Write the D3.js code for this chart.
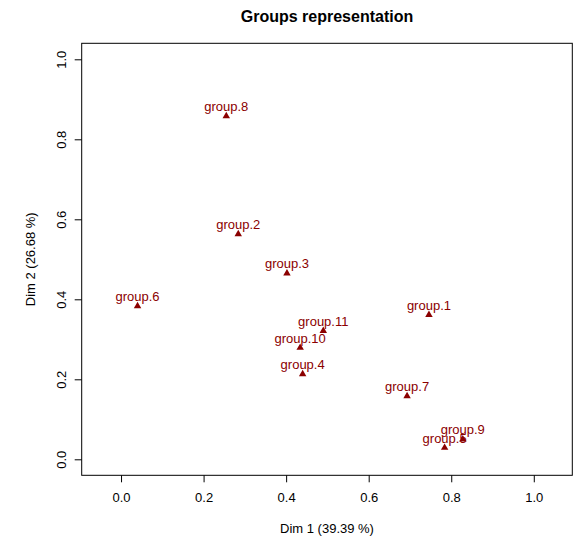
<!DOCTYPE html>
<html>
<head>
<meta charset="utf-8">
<script src="https://cdn.jsdelivr.net/npm/d3@7"></script>
<style>
  html, body { margin: 0; padding: 0; background: #fff; }
  svg { display: block; font-family: "Liberation Sans", Arial, Helvetica, sans-serif; }
</style>
</head>
<body>
<svg id="chart" width="574" height="540"></svg>
<script>
const groups = ["group.1","group.2","group.3","group.4","group.5","group.6","group.7","group.8","group.9","group.10","group.11"];
const dim1 = [0.746, 0.284, 0.402, 0.440, 0.784, 0.040, 0.693, 0.255, 0.828, 0.434, 0.490];
const dim2 = [0.361, 0.563, 0.465, 0.213, 0.029, 0.383, 0.158, 0.858, 0.050, 0.279, 0.321];
const xTicks = [0, 0.2, 0.4, 0.6, 0.8, 1.0];
const yTicks = [0, 0.2, 0.4, 0.6, 0.8, 1.0];
const titleText = "Groups representation";
const xLabel = "Dim 1 (39.39 %)";
const yLabel = "Dim 2 (26.68 %)";

const W = 574, H = 540;
const margin = {left: 81.7, top: 43.3, right: 1.7, bottom: 64.7};
const svg = d3.select("#chart");
const col = "#8B0000";

const x = d3.scaleLinear().domain([-0.0953, 1.0933]).range([margin.left, W - margin.right]);
const y = d3.scaleLinear().domain([-0.04, 1.04]).range([H - margin.bottom, margin.top]);

// box
svg.append("rect")
  .attr("x", x.range()[0]).attr("y", y.range()[1])
  .attr("width", x.range()[1] - x.range()[0])
  .attr("height", y.range()[0] - y.range()[1])
  .attr("fill", "none").attr("stroke", "#000").attr("stroke-width", 1);

// x axis
const xAxis = svg.append("g")
  .attr("transform", `translate(0,${y.range()[0]})`)
  .call(d3.axisBottom(x).tickValues(xTicks).tickFormat(d3.format(".1f")).tickSizeOuter(0).tickSize(7).tickPadding(10));
xAxis.select(".domain").remove();
xAxis.selectAll("text").attr("font-size", 13).attr("fill", "#000").attr("font-family", "Liberation Sans, Arial, sans-serif");
xAxis.selectAll("line").attr("stroke", "#000");

// y axis
const yAxis = svg.append("g")
  .attr("transform", `translate(${x.range()[0]},0)`)
  .call(d3.axisLeft(y).tickValues(yTicks).tickFormat(d3.format(".1f")).tickSizeOuter(0).tickSize(7));
yAxis.select(".domain").remove();
yAxis.selectAll("line").attr("stroke", "#000");
yAxis.selectAll("text")
  .attr("font-size", 13).attr("fill", "#000").attr("font-family", "Liberation Sans, Arial, sans-serif")
  .attr("x", null).attr("dy", null)
  .attr("text-anchor", "middle")
  .attr("transform", "translate(-20,0) rotate(-90)")
  .attr("dy", "0.35em");

// title
svg.append("text")
  .attr("x", (x.range()[0] + x.range()[1]) / 2).attr("y", 21.5)
  .attr("text-anchor", "middle").attr("font-weight", "bold").attr("font-size", 16)
  .text(titleText);

// axis labels
svg.append("text")
  .attr("x", (x.range()[0] + x.range()[1]) / 2).attr("y", 533)
  .attr("text-anchor", "middle").attr("font-size", 13)
  .text(xLabel);
svg.append("text")
  .attr("transform", `translate(35,${(y.range()[0] + y.range()[1]) / 2}) rotate(-90)`)
  .attr("text-anchor", "middle").attr("font-size", 13)
  .text(yLabel);

const data = groups.map((g, i) => ({name: g, d1: dim1[i], d2: dim2[i]}));

// labels
svg.append("g").selectAll("text").data(data).join("text")
  .attr("x", d => x(d.d1)).attr("y", d => y(d.d2) - 5)
  .attr("text-anchor", "middle").attr("font-size", 13).attr("fill", col)
  .text(d => d.name);

// points
svg.append("g").selectAll("path").data(data).join("path")
  .attr("d", d3.symbol().type(d3.symbolTriangle).size(24))
  .attr("transform", d => `translate(${x(d.d1)},${y(d.d2)})`)
  .attr("fill", col);
</script>
</body>
</html>
